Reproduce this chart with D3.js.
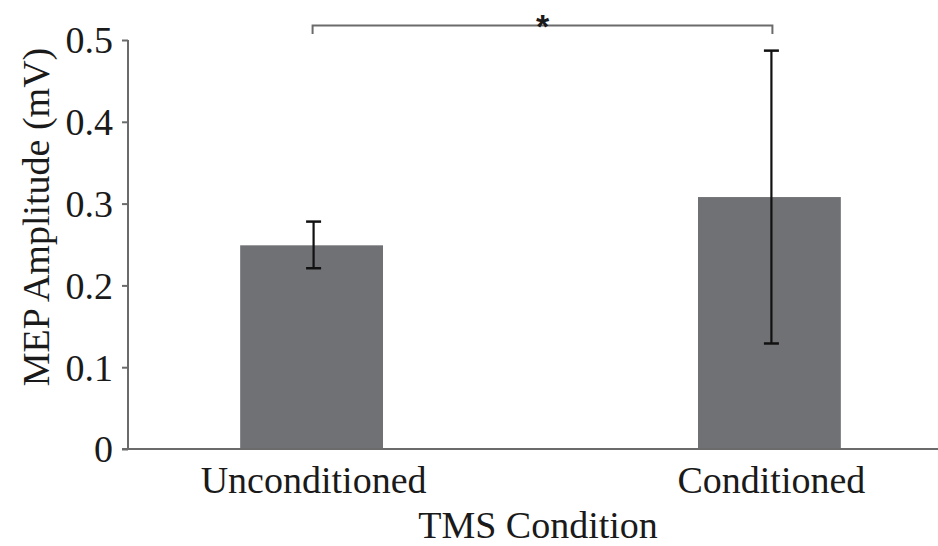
<!DOCTYPE html>
<html>
<head>
<meta charset="utf-8">
<script src="https://cdn.jsdelivr.net/npm/d3@7"></script>
<style>
  body { margin: 0; background: #fff; }
  text { font-family: "Liberation Serif", "Times New Roman", serif; fill: #1a1a1a; }
</style>
</head>
<body>
<svg id="chart" width="938" height="546"></svg>
<script>
const categories = ['Unconditioned', 'Conditioned'];
const means = [0.249, 0.308];
const errLow = [0.221, 0.129];
const errHigh = [0.278, 0.487];
const yTicks = [0, 0.1, 0.2, 0.3, 0.4, 0.5];
const sigPair = ['Unconditioned', 'Conditioned'];
const sigLabel = '*';

const svg = d3.select('#chart');

const x = d3.scaleBand()
  .domain(categories)
  .range([128, 953])
  .paddingInner(0.688)
  .paddingOuter(0.245);

const y = d3.scaleLinear()
  .domain([0, 0.5])
  .range([449, 40]);

const axisColor = '#6b6b6b';

// bars
svg.selectAll('rect.bar')
  .data(categories)
  .enter()
  .append('rect')
  .attr('class', 'bar')
  .attr('x', (d) => x(d))
  .attr('y', (d, i) => y(means[i]))
  .attr('width', x.bandwidth())
  .attr('height', (d, i) => y(0) - y(means[i]))
  .attr('fill', '#707175');

// y axis
const yAxis = svg.append('g')
  .attr('transform', 'translate(128,0)')
  .call(d3.axisLeft(y).tickValues(yTicks).tickSize(6).tickPadding(9)
    .tickFormat((d) => (d === 0 ? '0' : d3.format('.1f')(d))));
yAxis.select('.domain').attr('stroke', axisColor).attr('stroke-width', 2).attr('d', `M0,${y(0.5)}V${y(0)}`);
yAxis.selectAll('.tick line').attr('stroke', axisColor).attr('stroke-width', 2);
yAxis.selectAll('.tick text')
  .style('font-family', '"Liberation Serif", "Times New Roman", serif')
  .style('font-size', '38px')
  .attr('fill', '#1a1a1a')
  .attr('dy', '0.34em');

// x axis line
svg.append('line')
  .attr('x1', 122).attr('x2', 938)
  .attr('y1', y(0)).attr('y2', y(0))
  .attr('stroke', axisColor).attr('stroke-width', 2);

// x labels
svg.selectAll('text.xlab')
  .data(categories)
  .enter()
  .append('text')
  .attr('class', 'xlab')
  .attr('x', (d) => x(d) + x.bandwidth() / 2 + 2)
  .attr('y', 493)
  .attr('text-anchor', 'middle')
  .style('font-size', '38px')
  .text((d) => d);

// error bars
const errG = svg.append('g');
categories.forEach((c, i) => {
  const cx = x(c) + x.bandwidth() / 2 + 2;
  errG.append('line')
    .attr('x1', cx).attr('x2', cx)
    .attr('y1', y(errLow[i])).attr('y2', y(errHigh[i]))
    .attr('stroke', '#111').attr('stroke-width', 2.2);
  [errLow[i], errHigh[i]].forEach((v) => {
    errG.append('line')
      .attr('x1', cx - 7.5).attr('x2', cx + 7.5)
      .attr('y1', y(v)).attr('y2', y(v))
      .attr('stroke', '#111').attr('stroke-width', 2.5);
  });
});

// significance bracket
const bx1 = x(sigPair[0]) + x.bandwidth() / 2 + 1;
const bx2 = x(sigPair[1]) + x.bandwidth() / 2 + 3;
svg.append('path')
  .attr('d', `M${bx1},34V25.5H${bx2}V34`)
  .attr('fill', 'none')
  .attr('stroke', axisColor)
  .attr('stroke-width', 2);
svg.append('text')
  .attr('x', (bx1 + bx2) / 2)
  .attr('y', 38)
  .attr('text-anchor', 'middle')
  .style('font-family', '"Liberation Sans", Arial, sans-serif')
  .style('font-weight', 'bold')
  .style('font-size', '34px')
  .attr('fill', '#333')
  .text(sigLabel);

// axis titles
svg.append('text')
  .attr('transform', 'translate(49,217) rotate(-90)')
  .attr('text-anchor', 'middle')
  .style('font-size', '38px')
  .attr('fill', '#333')
  .text('MEP Amplitude (mV)');

svg.append('text')
  .attr('x', 538)
  .attr('y', 538)
  .attr('text-anchor', 'middle')
  .style('font-size', '38px')
  .text('TMS Condition');
</script>
</body>
</html>
